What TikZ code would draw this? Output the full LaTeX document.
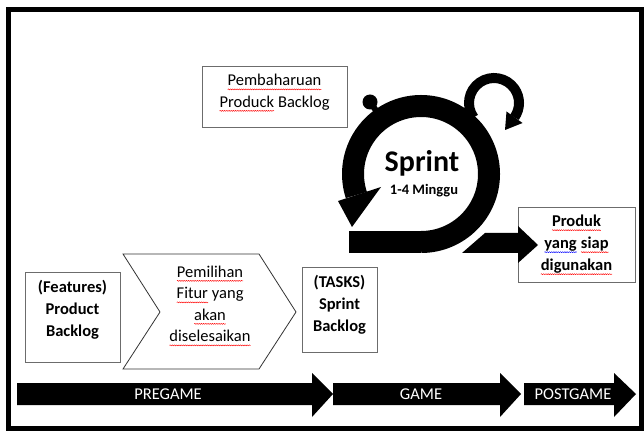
\documentclass[tikz,border=0pt]{standalone}
\usepackage{fontspec}
\setmainfont{Carlito}
\usetikzlibrary{decorations.pathmorphing,calc}
\newcommand\sqw[2][red]{\tikz[baseline=(sqwn.base)]{\node[inner sep=0pt,outer sep=0pt](sqwn){#2};\draw[#1,line width=0.45pt,decorate,decoration={snake,amplitude=0.5pt,segment length=2.2pt}]([yshift=-3.5pt]sqwn.base west)--([yshift=-3.5pt]sqwn.base east);}}
\begin{document}
\begin{tikzpicture}[x=1pt,y=1pt,
  boxframe/.style={draw=gray!85!black,line width=0.8pt,fill=white,inner sep=0pt},
  txt/.style={align=center,inner sep=0pt,font=\fontsize{16.5}{21.5}\selectfont},
  btxt/.style={align=center,inner sep=0pt,font=\bfseries\fontsize{16.5}{22}\selectfont},
  phase/.style={text=white,inner sep=0pt,font=\fontsize{16.5}{20}\selectfont},
  band/.style={line width=#1,draw=black}]
\useasboundingbox (0,0) rectangle (644,431);
\fill[white] (0,0) rectangle (644,431);
% outer frame
\draw[line width=5pt] (8,3) rectangle (641,421);

% phase arrows
\fill (17,48) -- (312,48) -- (312,58) -- (333,37) -- (312,14) -- (312,26) -- (17,26) -- cycle;
\fill (333,48) -- (500,48) -- (500,58) -- (521,37) -- (500,14) -- (500,26) -- (333,26) -- cycle;
\fill (524,48) -- (614,48) -- (614,58) -- (636,37) -- (614,14) -- (614,26) -- (524,26) -- cycle;
\node[phase] (pre) at (168,37) {PREGAME};
\node[phase] (game) at (421,37) {GAME};
\node[phase] (post) at (573,37) {POSTGAME};

% boxes
\node[boxframe,minimum width=95pt,minimum height=90pt] (featbox) at (72.5,114) {};
\node[btxt] (feat) at (72.5,121) {(Features)\\Product\\Backlog};

\draw[line width=0.8pt,draw=black!80,fill=white] (123,177) coordinate (chA) -- (259,177) -- (296,119) -- (259,62) -- (123,62) -- (160,119) -- cycle;
\node[txt] (pilih) at (210,125) {\sqw{Pemilihan}\\\sqw{Fitur} yang\\\sqw{akan}\\\sqw{diselesaikan}};

\node[boxframe,minimum width=75pt,minimum height=85pt] (taskbox) at (339.5,121.5) {};
\node[btxt] (task) at (339.5,126) {(TASKS)\\Sprint\\Backlog};

\node[boxframe,minimum width=145pt,minimum height=61pt] (pembbox) at (274.5,334.5) {};
\node[txt] (pemb) at (274.5,338) {\sqw{Pembaharuan}\\\sqw{Produck} Backlog};

\node[boxframe,minimum width=117pt,minimum height=75pt] (prodbox) at (576.5,186.5) {};
\node[btxt] (prod) at (576.5,186) {\sqw{Produk}\\\sqw[blue]{yang} \sqw{siap}\\\sqw{digunakan}};

% sprint icon
\fill (349,178) rectangle (421,200);
\draw[band=22pt] (421,189) arc[start angle=-90,end angle=198,radius=68];
\fill (338,230) -- (381,244) -- (352,204) -- cycle;
% knob
\draw[line width=6pt] (382,312) -- (370,329);
\fill (370,329) circle[radius=7.5];
% small loop
\draw[band=10pt] ($(494,328)+(215:25)$) arc[start angle=215,end angle=-35,radius=25];
\fill (522.5,308) -- (506.5,319.5) -- (505,301) -- cycle;
% exit arrow
\fill (462,178) -- (485,198) -- (518,198) -- (518,205) -- (538,186) -- (518,168) -- (518,178) -- cycle;

\node[font=\bfseries\fontsize{30}{30}\selectfont,inner sep=0pt] (sprint) at (422,268) {Sprint};
\node[font=\bfseries\fontsize{14.5}{16}\selectfont,inner sep=0pt] (mingg) at (424,240) {1-4 Minggu};
\end{tikzpicture}
\end{document}
